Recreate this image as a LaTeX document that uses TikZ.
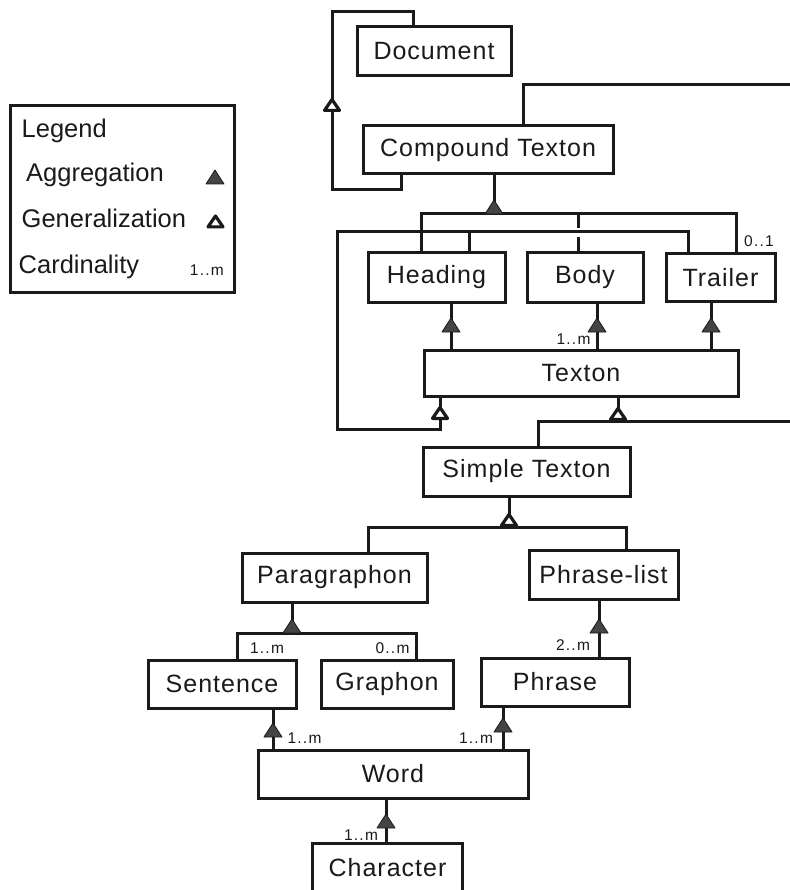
\documentclass[tikz,border=0pt]{standalone}
\usepackage{fontspec}
\setmainfont{Liberation Sans}
\newfontfamily\boxfont[LetterSpace=4]{Liberation Sans}
\newfontfamily\cardfont[LetterSpace=8]{Liberation Sans}
\usepackage{xcolor}
\usepackage{tikz}
\usetikzlibrary{positioning}

\definecolor{ink}{HTML}{1A1A1A}
\definecolor{aggfill}{HTML}{444444}

\tikzset{
    aggtri/.pic={\filldraw[fill=aggfill, draw=ink, line width=0.8pt, line join=round] (-9,0) -- (9,0) -- (0,-14) -- cycle;},
    gentri/.pic={\filldraw[fill=white, draw=ink, line width=3.2pt, line join=round] (-7.5,-1.6) -- (7.5,-1.6) -- (0,-12.5) -- cycle;}
}

\begin{document}
\begin{tikzpicture}[
    x=1pt, y=-1pt,
    cls/.style={draw=ink, line width=3pt, fill=white, inner sep=0pt, outer sep=0pt, text=ink, font=\boxfont\fontsize{25}{30}\selectfont},
    link/.style={draw=ink, line width=3pt},
    card/.style={inner sep=0pt, text=ink, font=\cardfont\fontsize{15.5}{18}\selectfont},
    lgtext/.style={inner sep=0pt, anchor=base west, text=ink, font=\fontsize{25.5}{30}\selectfont}
]
\useasboundingbox (0,0) rectangle (789,890);

% Legend
\node[draw=ink, line width=3pt, minimum width=224pt, minimum height=186pt, inner sep=0pt] (legend) at (122,199) {};
\node[lgtext] (lgtitle) at (21.5,137.5) {Legend};
\node[lgtext] (lgagg) at (26,181.5) {Aggregation};
\node[lgtext] (lggen) at (21.5,227.5) {Generalization};
\node[lgtext] (lgcard) at (18.5,273) {Cardinality};
\node[card, anchor=base east] (lgcardnum) at (224,276) {1..m};

% Classes
\node[cls, minimum width=154pt, minimum height=49pt] (document) at (434,51.5) {Document};
\node[cls, minimum width=250pt, minimum height=48pt] (ctexton) at (488,150) {Compound Texton};
\node[cls, minimum width=137pt, minimum height=49pt] (heading) at (436.5,277.5) {Heading};
\node[cls, minimum width=116pt, minimum height=49pt, right=22pt of heading] (body) {Body};
\node[cls, minimum width=109pt, minimum height=48pt, right=23pt of body] (trailer) {Trailer};
\node[cls, minimum width=314pt, minimum height=46pt] (texton) at (581,373) {Texton};
\node[cls, minimum width=207pt, minimum height=49pt] (stexton) at (526.5,471.5) {Simple Texton};
\node[cls, minimum width=185pt, minimum height=49pt] (para) at (334.5,577.5) {Paragraphon};
\node[cls, minimum width=149pt, minimum height=49pt] (plist) at (603.5,574.5) {Phrase-list};
\node[cls, minimum width=148pt, minimum height=48pt] (sentence) at (222,684) {Sentence};
\node[cls, minimum width=132pt, minimum height=48pt, right=25pt of sentence] (graphon) {Graphon};
\node[cls, minimum width=148pt, minimum height=48pt] (phrase) at (555,682) {Phrase};
\node[cls, minimum width=270pt, minimum height=48pt] (word) at (393,774) {Word};
\node[cls, minimum width=150pt, minimum height=49pt] (character) at (387.5,867.5) {Character};

% Bends and free ends
\coordinate (edgetop) at (795,85);
\coordinate (edgemid) at (795,421);
\coordinate (aggbar) at (494,214);
\coordinate (genleft) at (337,429);
\coordinate (genbar) at (688,232);
\coordinate (stbar) at (509,527);
\coordinate (parabar) at (292,633);

% Compound Texton is a Document
\draw[link] ([xshift=38pt]ctexton.south west) -- ++(0,16) -| (332,12) -| ([xshift=56pt]document.north west);
\draw[link] ([xshift=160pt]ctexton.north west) |- (edgetop);

% Compound Texton parts
\draw[link] ([xshift=6pt]ctexton.south) -- (aggbar);
\draw[link] ([xshift=-15.5pt]heading.north) |- (aggbar) -| ([xshift=15.5pt]trailer.north);
\draw[link] ([xshift=-7pt]body.north) -- ++(0,-16) ++(0,-9) -- ++(0,-14);

% Heading, Body, Trailer are Textons
\draw[link] ([xshift=16pt]texton.south west) |- (genleft) |- (genbar) -- ([xshift=22pt]trailer.north west);
\draw[link] ([xshift=32.5pt]heading.north) -- ++(0,-21);

% Texton parts
\draw[link] ([xshift=14.5pt]heading.south) -- ([xshift=-130pt]texton.north);
\draw[link] ([xshift=12pt]body.south) -- ([xshift=16pt]texton.north);
\draw[link] ([xshift=-9.5pt]trailer.south) -- ([xshift=130pt]texton.north);

% Simple Texton is a Texton
\draw[link] ([xshift=37pt]texton.south) -- ++(0,25);
\draw[link] ([xshift=11.5pt]stexton.north) |- (edgemid);

% Simple Texton kinds
\draw[link] ([xshift=-17.5pt]stexton.south) -- (stbar);
\draw[link] ([xshift=33.5pt]para.north) |- (stbar) -| ([xshift=22.5pt]plist.north);

% Paragraphon parts
\draw[link] ([xshift=-42.5pt]para.south) -- (parabar);
\draw[link] ([xshift=15pt]sentence.north) |- (parabar) -| ([xshift=29pt]graphon.north);

% Lower aggregations
\draw[link] ([xshift=44pt]phrase.north) -- ([xshift=-4.5pt]plist.south);
\draw[link] ([xshift=-120pt]word.north) -- ([xshift=51pt]sentence.south);
\draw[link] ([xshift=110pt]word.north) -- ([xshift=-52pt]phrase.south);
\draw[link] ([xshift=-1.5pt]character.north) -- ([xshift=-7pt]word.south);

% Triangles
\pic at (215,184) {aggtri};
\pic at (215.5,228.5) {gentri};
\pic at (332,112) {gentri};
\pic at (494,214) {aggtri};
\pic at (451,332) {aggtri};
\pic at (597,332) {aggtri};
\pic at (711,332) {aggtri};
\pic at (440,420) {gentri};
\pic at (618,421) {gentri};
\pic at (509,527) {gentri};
\pic at (292,633) {aggtri};
\pic at (599,633) {aggtri};
\pic at (273,737) {aggtri};
\pic at (503,732) {aggtri};
\pic at (386,828) {aggtri};

% Cardinalities
\node[card] (ctrailer) at (759,241) {0..1};
\node[card] (cbody) at (573.5,339) {1..m};
\node[card] (csentence) at (267,648) {1..m};
\node[card] (cgraphon) at (392.5,648) {0..m};
\node[card] (cphrase) at (573,645) {2..m};
\node[card] (cwordsent) at (304.5,738) {1..m};
\node[card] (cwordphr) at (476,738) {1..m};
\node[card] (ccharacter) at (361,835) {1..m};

\end{tikzpicture}
\end{document}
